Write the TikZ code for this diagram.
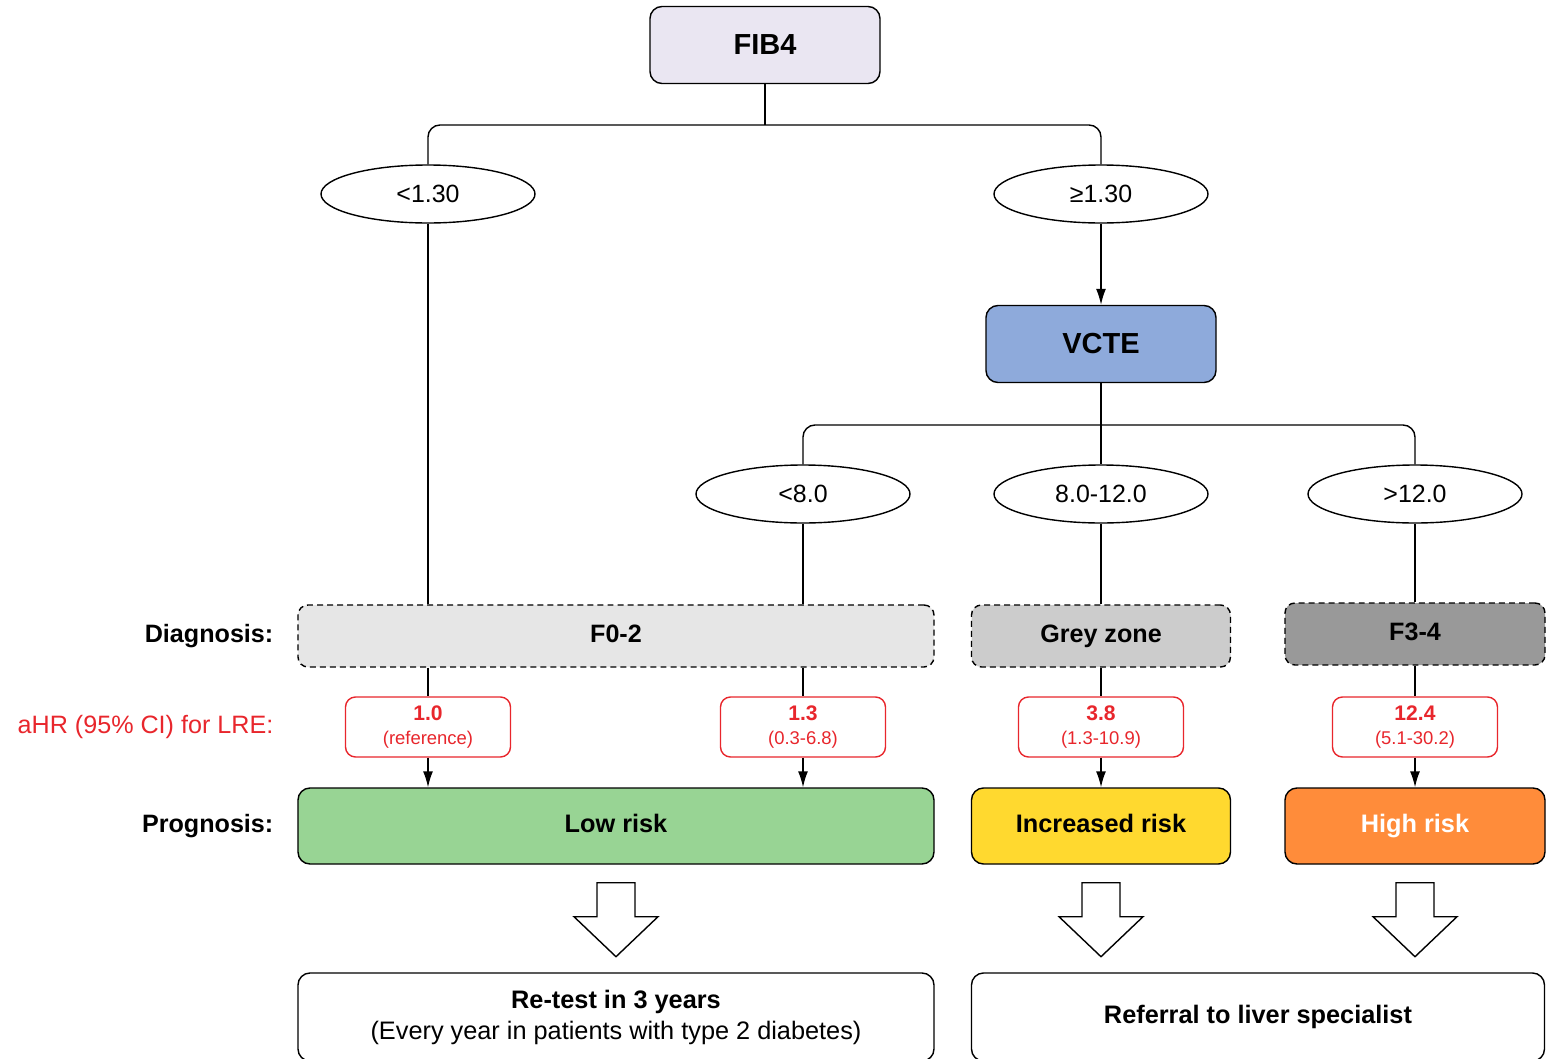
\documentclass[tikz,border=0pt]{standalone}
\usepackage{fontspec}
\setmainfont{Liberation Sans}
\usetikzlibrary{shapes.geometric,arrows.meta}
\definecolor{fibfill}{HTML}{EAE6F2}
\definecolor{vctefill}{HTML}{8EAADB}
\definecolor{lightgrey}{HTML}{E6E6E6}
\definecolor{midgrey}{HTML}{CCCCCC}
\definecolor{darkgrey}{HTML}{999999}
\definecolor{lowgreen}{HTML}{98D494}
\definecolor{incyellow}{HTML}{FFD92F}
\definecolor{highorange}{HTML}{FF8C3A}
\definecolor{lrered}{HTML}{E8262C}
\tikzset{>={Latex[length=3.2mm,width=2mm]}}
\tikzset{
  testbox/.style = {draw, rounded corners=2.4mm, minimum width=46mm, minimum height=15.4mm,
    font=\bfseries\fontsize{16.5}{18}\selectfont},
  cutoff/.style = {draw, ellipse, minimum width=42.8mm, minimum height=11.6mm,
    font=\fontsize{14.2}{16}\selectfont},
  diagbox/.style = {draw, dash pattern=on 3.4pt off 2.3pt, rounded corners=2mm,
    minimum height=12.4mm, text height=0.8em, text depth=0.03em,
    font=\bfseries\fontsize{14.3}{16}\selectfont},
  hrbox/.style = {draw=lrered, text=lrered, fill=white, rounded corners=2mm, align=center,
    minimum width=33mm, minimum height=12mm, inner sep=1pt},
  progbox/.style = {draw, rounded corners=2.4mm, minimum height=15.2mm,
    text height=0.8em, text depth=0.03em, font=\bfseries\fontsize{14.4}{16}\selectfont},
  actionbox/.style = {draw, rounded corners=2.4mm, minimum height=17.6mm, align=center,
    font=\fontsize{14.4}{17.6}\selectfont},
  rowlabel/.style = {anchor=east, inner sep=0pt, text height=0.8em, text depth=0.03em,
    font=\bfseries\fontsize{14.3}{16}\selectfont},
  hollow/.style = {draw, fill=white}
}
\newcommand\hazard[2]{{\bfseries\fontsize{12}{13}\selectfont #1}\\[2pt]{\fontsize{10.5}{12}\selectfont #2}}

\begin{document}
\begin{tikzpicture}[x=0.2mm,y=-0.2mm,line width=0.8pt]
  \useasboundingbox (0,0) rectangle (1547,1059);
  % tests and cut-offs
  \node[testbox, fill=fibfill] (fib) at (765,45) {FIB4};
  \node[cutoff] (lt) at (428,194) {<1.30};
  \node[cutoff] (ge) at (1101,194) {≥1.30};
  \node[testbox, fill=vctefill] (vcte) at (1101,344) {VCTE};
  \node[cutoff] (lo) at (803,494) {<8.0};
  \node[cutoff] (mid) at (1101,494) {8.0-12.0};
  \node[cutoff] (hi) at (1415,494) {>12.0};
  % diagnosis
  \node[rowlabel] (diagnosis) at (274,636) {Diagnosis:};
  \node[diagbox, fill=lightgrey, minimum width=127.2mm] (f02) at (616,636) {F0-2};
  \node[diagbox, fill=midgrey, minimum width=51.8mm] (grey) at (1101,636) {Grey zone};
  \node[diagbox, fill=darkgrey, minimum width=52mm] (f34) at (1415,634) {F3-4};
  % hazard ratios
  \node[rowlabel, font=\fontsize{14.3}{16}\selectfont, text=lrered] (ahr) at (274,727) {aHR (95\% CI) for LRE:};
  \node[hrbox] (hr1) at (428,727) {\hazard{1.0}{(reference)}};
  \node[hrbox] (hr2) at (803,727) {\hazard{1.3}{(0.3-6.8)}};
  \node[hrbox] (hr3) at (1101,727) {\hazard{3.8}{(1.3-10.9)}};
  \node[hrbox] (hr4) at (1415,727) {\hazard{12.4}{(5.1-30.2)}};
  % prognosis
  \node[rowlabel] (prognosis) at (274,826) {Prognosis:};
  \node[progbox, fill=lowgreen, minimum width=127.2mm] (low) at (616,826) {Low risk};
  \node[progbox, fill=incyellow, minimum width=51.8mm] (inc) at (1101,826) {Increased risk};
  \node[progbox, fill=highorange, minimum width=52mm, text=white] (high) at (1415,826) {High risk};
  % actions
  \node[actionbox, minimum width=127.2mm] (retest) at (616,1017)
    {\textbf{Re-test in 3 years}\\(Every year in patients with type 2 diabetes)};
  \node[actionbox, minimum width=114.6mm] (referral) at (1258,1017)
    {\textbf{Referral to liver specialist}};
  % first split
  \coordinate (s1) at (765,125);
  \draw (fib) -- (s1);
  \draw[rounded corners=2.4mm] (lt) |- (s1) -| (ge);
  \draw[->] (ge) -- (vcte);
  % second split
  \coordinate (s2) at (1101,425);
  \draw (vcte) -- (s2) -- (mid);
  \draw[rounded corners=2.4mm] (lo) |- (s2) -| (hi);
  % down to diagnosis
  \draw (lt) -- (lt |- f02.north);
  \draw (lo) -- (lo |- f02.north);
  \draw (mid) -- (grey);
  \draw (hi) -- (f34);
  % diagnosis to hazard ratios
  \draw (hr1 |- f02.south) -- (hr1);
  \draw (hr2 |- f02.south) -- (hr2);
  \draw (grey) -- (hr3);
  \draw (f34) -- (hr4);
  % hazard ratios to prognosis
  \draw[->] (hr1) -- (hr1 |- low.north);
  \draw[->] (hr2) -- (hr2 |- low.north);
  \draw[->] (hr3) -- (inc);
  \draw[->] (hr4) -- (high);
  % hollow arrows
  \foreach \n in {low,inc,high} {
    \draw[hollow] (\n.south) ++(-19,18) -- ++(38,0) -- ++(0,34) -- ++(23,0)
      -- ++(-42,40) -- ++(-42,-40) -- ++(23,0) -- cycle;
  }
\end{tikzpicture}
\end{document}
